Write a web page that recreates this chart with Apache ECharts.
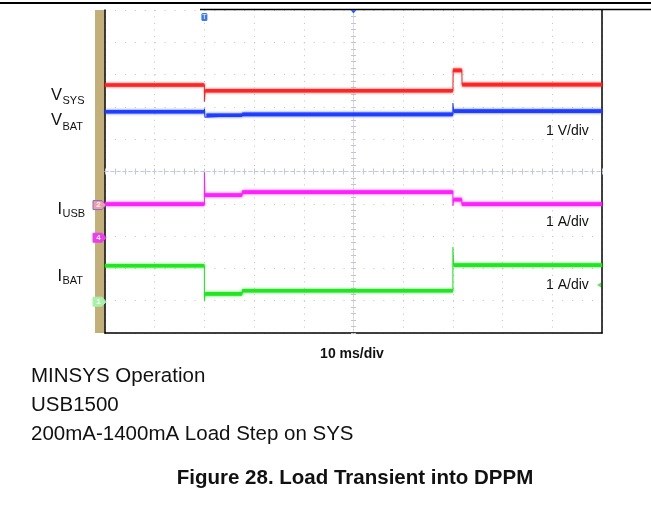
<!DOCTYPE html>
<html>
<head>
<meta charset="utf-8">
<script src="https://cdn.jsdelivr.net/npm/echarts@6/dist/echarts.min.js"></script>
<style>
  html, body { margin: 0; padding: 0; background: #fff; }
  #c { width: 651px; height: 507px; }
</style>
</head>
<body>
<div id="c"></div>
<script>
// Time base: 10 divisions of 10 ms
const timeRange = [0, 100];
const timeStep = 10;
// Vertical screen: 10 divisions
const divRange = [0, 10];
const divStep = 1;

// Traces as [time (ms), screen position (div)]
const vsysTrace = [[0, 7.68], [20, 7.68], [20, 7.16], [20.15, 7.50], [70, 7.50], [70.05, 8.13], [71.8, 8.13], [71.85, 7.69], [100, 7.69]];
const vbatTrace = [[0, 6.85], [20, 6.85], [20, 6.95], [20.1, 6.68], [20.4, 6.74], [27.6, 6.74], [27.6, 6.77], [70, 6.77], [70, 7.12], [70.15, 6.87], [100, 6.87]];
const iusbTrace = [[0, 3.99], [20, 3.99], [20, 4.98], [20.1, 4.27], [27.6, 4.27], [27.6, 4.36], [70, 4.36], [70, 3.93], [70.15, 4.13], [71.8, 4.13], [71.8, 3.99], [100, 3.99]];
const ibatTrace = [[0, 2.08], [20, 2.08], [20, 1.00], [20.15, 1.21], [27.6, 1.21], [27.6, 1.31], [70, 1.31], [70, 2.66], [70.15, 2.10], [100, 2.10]];

const traceColors = ['#ff2424', '#1e3cff', '#ff1fff', '#1fe61f'];

// Channel ground markers on the left strip (screen divisions)
const channelLabels = ['2', '4', '1'];
const channelLevels = [3.96, 2.95, 0.97];
const channelFills = ['#f39aa6', '#ee3cee', '#a6f2a6'];
const channelStrokes = ['#7b72c6', '#ee3cee', '#a6f2a6'];
const triggerTime = 20;

const scaleLabels = ['1 V/div', '1 A/div', '1 A/div'];
const scaleLabelY = [131, 222.5, 285];
const timeLabel = '10 ms/div';
const captionLines = ['MINSYS Operation', 'USB1500', '200mA-1400mA Load Step on SYS'];
const figureTitle = 'Figure 28. Load Transient into DPPM';

const FONT = "'Liberation Sans', Arial, Helvetica, sans-serif";

// Flat (horizontal) runs of a trace are drawn thick, the whole path thin.
function flatRuns(path) {
  const out = [];
  for (let i = 0; i < path.length - 1; i++) {
    const a = path[i], b = path[i + 1];
    if (a[1] === b[1] && b[0] - a[0] > 0.3) {
      out.push(a, b, [b[0], '-']);
    }
  }
  return out;
}

const traces = [vsysTrace, vbatTrace, iusbTrace, ibatTrace];
const series = [];
traces.forEach((path, i) => {
  const color = traceColors[i];
  series.push({
    type: 'line', data: path, symbol: 'none', silent: true, z: 3 + i,
    lineStyle: { width: 1.1, color: color }
  });
  series.push({
    type: 'line', data: flatRuns(path), symbol: 'none', silent: true, z: 3 + i,
    connectNulls: false,
    lineStyle: { width: 3.6, color: color, shadowColor: color, shadowBlur: 2.5, opacity: 0.95 }
  });
});

const centerColor = '#c3c7e2';
function centerX(inside) {
  return {
    type: 'value', min: timeRange[0], max: timeRange[1], interval: timeStep,
    position: 'bottom', offset: -161.5,
    axisLine: { show: true, onZero: false, lineStyle: { color: centerColor, width: 1, type: [3, 3] } },
    axisTick: { show: true, inside: inside, length: 3, lineStyle: { color: centerColor } },
    minorTick: { show: true, splitNumber: 5, length: 3, lineStyle: { color: centerColor } },
    axisLabel: { show: false }, splitLine: { show: false }
  };
}
function centerY(inside) {
  return {
    type: 'value', min: divRange[0], max: divRange[1], interval: divStep,
    position: 'left', offset: -248.5,
    axisLine: { show: true, onZero: false, lineStyle: { color: '#cfcfd8', width: 1, type: [1, 2] } },
    axisTick: { show: true, inside: inside, length: 2.5, lineStyle: { color: '#c4c4d0' } },
    minorTick: { show: true, splitNumber: 5, length: 2.5, lineStyle: { color: '#c4c4d0' } },
    axisLabel: { show: false }, splitLine: { show: false }
  };
}

const chart = echarts.init(document.getElementById('c'), null, { renderer: 'canvas' });
chart.setOption({
  animation: false,
  backgroundColor: '#ffffff',
  grid: { left: 105, top: 10, width: 497, height: 323, containLabel: false },
  xAxis: [
    {
      type: 'value', min: timeRange[0], max: timeRange[1], interval: timeStep,
      axisLine: { show: true, onZero: false, lineStyle: { color: '#000', width: 1.5 } },
      axisTick: { show: false }, axisLabel: { show: false },
      splitLine: { show: true, lineStyle: { color: '#c2c2c2', width: 1, type: [1, 5.46] } }
    },
    centerX(true), centerX(false)
  ],
  yAxis: [
    {
      type: 'value', min: divRange[0], max: divRange[1], interval: divStep,
      axisLine: { show: true, onZero: false, lineStyle: { color: '#000', width: 1.5 } },
      axisTick: { show: false }, axisLabel: { show: false },
      splitLine: { show: true, lineStyle: { color: '#c2c2c2', width: 1, type: [1, 8.94] } }
    },
    {
      type: 'value', min: divRange[0], max: divRange[1], interval: divStep, position: 'right',
      axisLine: { show: true, onZero: false, lineStyle: { color: '#000', width: 1.5 } },
      axisTick: { show: false }, axisLabel: { show: false }, splitLine: { show: false }
    },
    centerY(true), centerY(false)
  ],
  series: series
});

// Decorations placed through the axis scales where they refer to values
const graphic = [];
graphic.push({ type: 'line', shape: { x1: 0, y1: 3, x2: 651, y2: 3 }, style: { stroke: '#000', lineWidth: 2 } });
graphic.push({ type: 'line', shape: { x1: 200, y1: 9.5, x2: 651, y2: 9.5 }, style: { stroke: '#000', lineWidth: 1.5 } });
graphic.push({ type: 'rect', shape: { x: 95, y: 10, width: 9.5, height: 323 }, style: { fill: '#c3af78' }, z: -1 });

channelLabels.forEach((lab, i) => {
  const y = chart.convertToPixel({ yAxisIndex: 0 }, channelLevels[i]);
  graphic.push({
    type: 'polygon', z: 10,
    shape: { points: [[93, y - 4.5], [102, y - 4.5], [106, y], [102, y + 4.5], [93, y + 4.5]] },
    style: { fill: channelFills[i], stroke: channelStrokes[i], lineWidth: 1 }
  });
  graphic.push({
    type: 'text', z: 11,
    style: { x: 98.5, y: y, text: lab, fill: '#ffffff', font: 'bold 8px ' + FONT, textAlign: 'center', textVerticalAlign: 'middle' }
  });
});

const tx = chart.convertToPixel({ xAxisIndex: 0 }, triggerTime);
graphic.push({ type: 'rect', z: 10, shape: { x: tx - 3, y: 13, width: 6, height: 8, r: 1.5 }, style: { fill: '#3a78ee' } });
graphic.push({ type: 'text', z: 11, style: { x: tx, y: 17, text: 'T', fill: '#cfe0ff', font: 'bold 7px ' + FONT, textAlign: 'center', textVerticalAlign: 'middle' } });
const cx = chart.convertToPixel({ xAxisIndex: 0 }, (timeRange[0] + timeRange[1]) / 2);
graphic.push({ type: 'polygon', z: 10, shape: { points: [[cx - 3, 10], [cx + 3, 10], [cx, 13.5]] }, style: { fill: '#2a62e6' } });
graphic.push({ type: 'polygon', z: 10, shape: { points: [[597, 285], [601, 282.5], [601, 287.5]] }, style: { fill: '#5fe65f' } });

// Trace names with subscripts
const traceNames = [['V', 'SYS', 95, 101], ['V', 'BAT', 120.5, 126.5], ['I', 'USB', 209, 213.5], ['I', 'BAT', 276, 281]];
traceNames.forEach(n => {
  graphic.push({ type: 'text', style: { x: 62, y: n[2], text: n[0], fill: '#111', font: '16.5px ' + FONT, textAlign: 'right', textVerticalAlign: 'middle' } });
  graphic.push({ type: 'text', style: { x: 62.5, y: n[3], text: n[1], fill: '#111', font: '11px ' + FONT, textAlign: 'left', textVerticalAlign: 'middle' } });
});

scaleLabels.forEach((s, i) => {
  graphic.push({ type: 'text', style: { x: 546, y: scaleLabelY[i], text: s, fill: '#111', font: '14px ' + FONT, textAlign: 'left', textVerticalAlign: 'middle' } });
});

graphic.push({ type: 'text', style: { x: 352, y: 354, text: timeLabel, fill: '#111', font: 'bold 14px ' + FONT, textAlign: 'center', textVerticalAlign: 'middle' } });

const captionY = [376, 405, 434];
captionLines.forEach((s, i) => {
  graphic.push({ type: 'text', style: { x: 31, y: captionY[i], text: s, fill: '#111', font: '20.5px ' + FONT, textAlign: 'left', textVerticalAlign: 'middle' } });
});
graphic.push({ type: 'text', style: { x: 355, y: 478, text: figureTitle, fill: '#111', font: 'bold 20.5px ' + FONT, textAlign: 'center', textVerticalAlign: 'middle' } });

chart.setOption({ graphic: graphic });
</script>
</body>
</html>
